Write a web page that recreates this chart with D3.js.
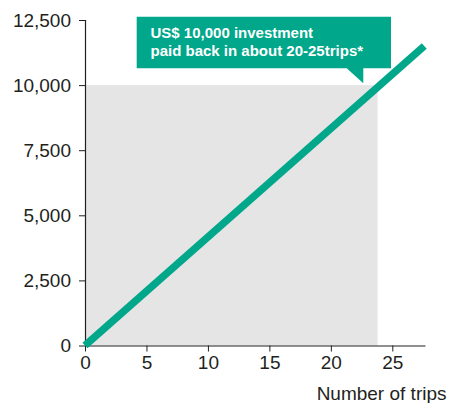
<!DOCTYPE html>
<html>
<head>
<meta charset="utf-8">
<script src="https://cdn.jsdelivr.net/npm/d3@7"></script>
<style>
  html, body { margin: 0; padding: 0; background: #ffffff; }
  svg { display: block; font-family: "Liberation Sans", Arial, Helvetica, sans-serif; }
</style>
</head>
<body>
<svg id="chart" width="449" height="403"></svg>
<script>
// ---- data ----
const xTicks = [0, 5, 10, 15, 20, 25];
const yTicks = [0, 2500, 5000, 7500, 10000, 12500];
const lineTrips = [0, 27.6];
const lineValues = [0, 11500];
const shadeTrips = [0, 23.8];
const shadeValues = [0, 10000];
const xMax = 27.7;
const yMax = 12500;
const calloutLines = ["US$ 10,000 investment", "paid back in about 20-25trips*"];
const xTitle = "Number of trips";

const teal = "#00a78a";
const ink = "#231f20";

const svg = d3.select("#chart");
const x = d3.scaleLinear().domain([0, xMax]).range([85, 425.5]);
const y = d3.scaleLinear().domain([0, yMax]).range([345.5, 20]);

// shaded region
svg.append("rect")
  .attr("x", x(shadeTrips[0]))
  .attr("y", y(shadeValues[1]))
  .attr("width", x(shadeTrips[1]) - x(shadeTrips[0]))
  .attr("height", y(shadeValues[0]) - y(shadeValues[1]))
  .attr("fill", "#e5e5e5");

// axes
const xAxis = d3.axisBottom(x).tickValues(xTicks).tickSize(6).tickPadding(4)
  .tickFormat(d3.format("d"));
const yAxis = d3.axisLeft(y).tickValues(yTicks).tickSize(6).tickPadding(8)
  .tickFormat(d3.format(","));

const gx = svg.append("g").attr("transform", `translate(0,${y(0)})`).call(xAxis);
const gy = svg.append("g").attr("transform", `translate(${x(0)},0)`).call(yAxis);
[gx, gy].forEach(g => {
  g.select(".domain").attr("stroke", ink).attr("stroke-width", 1.2)
    .attr("d", g === gx ? `M${x(0)},0.5H${x(xMax)}` : `M0.5,${y(yMax)}V${y(0)}`);
  g.selectAll(".tick line").attr("stroke", ink).attr("stroke-width", 1);
  g.selectAll(".tick text").attr("fill", ink).attr("font-size", 19)
    .attr("font-family", "'Liberation Sans', Arial, sans-serif");
});

// line
const pts = lineTrips.map((t, i) => [t, lineValues[i]]);
svg.append("path")
  .attr("d", d3.line().x(d => x(d[0])).y(d => y(d[1]))(pts))
  .attr("fill", "none")
  .attr("stroke", teal)
  .attr("stroke-width", 7.5)
  .attr("stroke-linecap", "butt");

// callout
const bx0 = 136.7, bx1 = 391, by0 = 16.7, by1 = 68.3;
const cal = svg.append("g");
cal.append("path")
  .attr("d", `M${bx0},${by0}H${bx1}V${by1}H363.3V83.3L346.7,${by1}H${bx0}Z`)
  .attr("fill", teal);
cal.selectAll("text").data(calloutLines).join("text")
  .attr("x", 150.5)
  .attr("y", (d, i) => 37.5 + i * 18.5)
  .attr("fill", "#ffffff")
  .attr("font-size", 15)
  .attr("font-weight", "bold")
  .text(d => d);

// x title
svg.append("text")
  .attr("x", 446.5)
  .attr("y", 399.5)
  .attr("text-anchor", "end")
  .attr("fill", ink)
  .attr("font-size", 19)
  .text(xTitle);
</script>
</body>
</html>
